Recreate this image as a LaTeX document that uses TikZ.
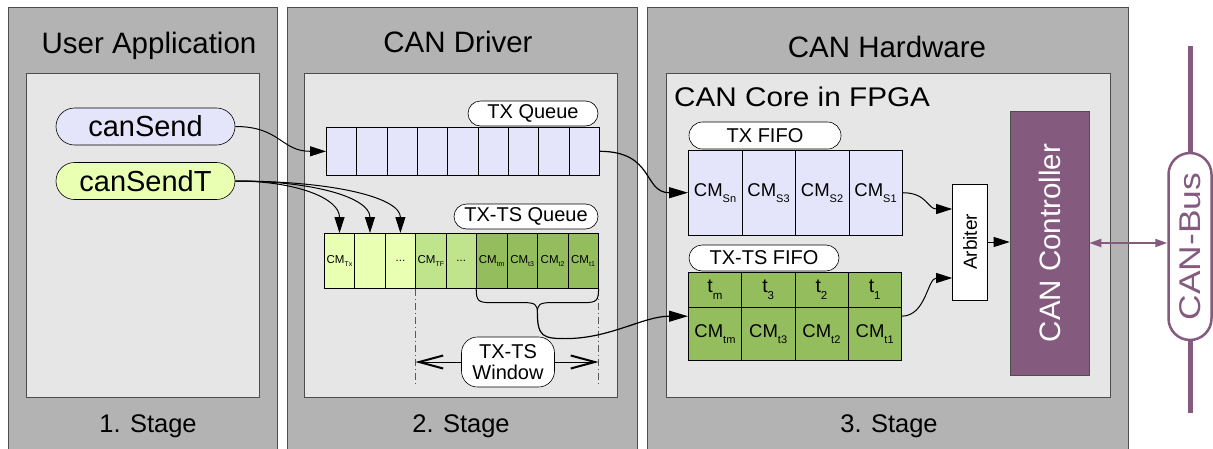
\documentclass[tikz,border=0pt]{standalone}
\usepackage{fontspec}
\usepackage{graphicx}
\setmainfont{Liberation Sans}
\usetikzlibrary{arrows.meta,shapes.misc,calc}
\definecolor{outergray}{RGB}{179,179,179}
\definecolor{innergray}{RGB}{230,230,230}
\definecolor{bordergray}{RGB}{77,77,77}
\definecolor{lav}{RGB}{228,228,250}
\definecolor{lgreen}{RGB}{233,255,178}
\definecolor{mgreen}{RGB}{192,228,140}
\definecolor{dgreen}{RGB}{148,189,94}
\definecolor{canpurple}{RGB}{132,91,127}
\newcommand\subA[1]{\raisebox{-6pt}{\fontsize{11}{11}\selectfont #1}}
\newcommand\subB[1]{\raisebox{-3pt}{\fontsize{7}{7}\selectfont #1}}
\newcommand\subT[1]{\raisebox{-7pt}{\fontsize{11.5}{11.5}\selectfont #1}}
\begin{document}
\begin{tikzpicture}[x=1pt,y=-1pt,
  panel/.style={fill=outergray,draw=bordergray,line width=0.8pt},
  innerbox/.style={fill=innergray,draw=bordergray,line width=0.8pt},
  paneltitle/.style={font=\fontsize{29.5}{34}\selectfont,anchor=base,inner sep=0},
  stagetxt/.style={font=\fontsize{25.5}{30}\selectfont,anchor=base,inner sep=0},
  funcnode/.style={rounded rectangle,draw=black,line width=0.6pt,minimum width=179pt,minimum height=37pt,inner sep=0,font=\fontsize{29}{34}\selectfont},
  tagnode/.style={rounded rectangle,draw=black,fill=white,line width=0.6pt,inner sep=0,font=\fontsize{20}{24}\selectfont},
  qcell/.style={draw=black,line width=0.6pt,anchor=north west,inner sep=0,minimum width=30.33pt,minimum height=48pt},
  rcell/.style={draw=black,line width=0.6pt,anchor=north west,inner sep=0,minimum width=30.44pt,minimum height=55pt,font=\fontsize{11.5}{13}\selectfont},
  fcell/.style={draw=black,line width=0.6pt,anchor=north west,inner sep=0,minimum width=53.5pt,minimum height=85pt,font=\fontsize{18.5}{20}\selectfont},
  gcell/.style={draw=black,line width=0.6pt,anchor=north west,inner sep=0,minimum width=53.25pt,minimum height=35pt,font=\fontsize{19.5}{20}\selectfont,fill=dgreen},
  hcell/.style={draw=black,line width=0.6pt,anchor=north west,inner sep=0,minimum width=53.25pt,minimum height=53pt,font=\fontsize{18.5}{20}\selectfont,fill=dgreen},
  conn/.style={line width=1pt,-{Triangle[length=16pt,width=10pt]}},
  connbig/.style={line width=1.2pt,-{Triangle[length=19pt,width=11pt]}},
  wing/.style={line width=1pt,-{Straight Barb[length=24pt,width=13pt,line width=2pt]}},
  dashdotline/.style={draw=black!65,line width=0.8pt,dash pattern=on 7pt off 3pt on 1pt off 3pt}
]
\useasboundingbox (0,0) rectangle (1213,448);
\fill[white] (0,0) rectangle (1213,448);
% panels
\draw[panel] (8,7) rectangle (277,452);
\draw[panel] (287,7) rectangle (637,452);
\draw[panel] (647,7) rectangle (1128,452);
\draw[innerbox] (26,73) rectangle (259,397);
\draw[innerbox] (304,73) rectangle (617,397);
\draw[innerbox] (666,73) rectangle (1110,397);
% titles
\node[paneltitle] (t1) at (149,53) {User Application};
\node[paneltitle] (t2) at (458,52) {CAN Driver};
\node[paneltitle] (t3) at (887,57) {CAN Hardware};
\node[paneltitle,anchor=base west,font=\fontsize{27}{32}\selectfont] (t4) at (674,106) {\scalebox{1.1}[1]{CAN Core in FPGA}};
\node[stagetxt] (s1) at (148,432) {1. Stage};
\node[stagetxt] (s2) at (461,432) {2. Stage};
\node[stagetxt] (s3) at (889,432) {3. Stage};
% user application
\node[funcnode,fill=lav] (cs) at (145.5,126.5) {canSend};
\node[funcnode,fill=lgreen] (cst) at (145.5,181) {canSendT};
% TX queue
\foreach \i in {1,...,9} \node[qcell,fill=lav] (q\i) at ({326+(\i-1)*30.33},127) {};
\node[tagnode,minimum width=130pt,minimum height=25pt] (lq) at (533,113.5) {TX Queue};
% TX-TS queue
\foreach \i/\c/\t in {1/lgreen/{CM\subB{Tx}},2/lgreen/{},3/lgreen/{...},4/mgreen/{CM\subB{TF}},5/mgreen/{...},6/dgreen/{CM\subB{tm}},7/dgreen/{CM\subB{t3}},8/dgreen/{CM\subB{t2}},9/dgreen/{CM\subB{t1}}}
  \node[rcell,fill=\c] (r\i) at ({324+(\i-1)*30.44},233) {\t};
\node[tagnode,minimum width=144pt,minimum height=25pt] (lts) at (526,216.5) {TX-TS Queue};
% TX FIFO
\node[anchor=north west,minimum width=214pt,minimum height=85pt,inner sep=0] (txf) at (688,150) {};
\foreach \i/\t in {1/Sn,2/S3,3/S2,4/S1}
  \node[fcell,fill=lav] (f\i) at ({688+(\i-1)*53.5},150) {CM\subA{\t}};
\node[tagnode,minimum width=152pt,minimum height=27pt] (lf) at (765,135.5) {TX FIFO};
% TX-TS FIFO
\node[anchor=north west,minimum width=213pt,minimum height=88pt,inner sep=0] (tsf) at (688,272) {};
\foreach \i/\t/\s in {1/m/tm,2/3/t3,3/2/t2,4/1/t1}{
  \node[gcell] (g\i) at ({688+(\i-1)*53.25},272) {t\subT{\t}};
  \node[hcell] (h\i) at ({688+(\i-1)*53.25},307) {CM\subA{\s}};
}
\node[tagnode,minimum width=150pt,minimum height=26pt] (ltf) at (764,258) {TX-TS FIFO};
% arbiter and controller
\node[draw=black,fill=white,line width=0.6pt,rotate=90,minimum width=116pt,minimum height=35pt,inner sep=0,font=\fontsize{19}{20}\selectfont] (arb) at (970,242) {Arbiter};
\node[draw=bordergray,fill=canpurple,line width=0.6pt,rotate=90,minimum width=264pt,minimum height=79pt,inner sep=0,text=white,font=\fontsize{29.5}{34}\selectfont] (ctrl) at (1049.5,243) {CAN Controller};
% CAN bus
\coordinate (bustop) at (1190,46);
\coordinate (busbot) at (1190,413);
\draw[canpurple,line width=5pt] (bustop) -- (busbot);
\node[rounded rectangle,rotate=90,draw=canpurple,line width=2.5pt,fill=white,minimum width=187pt,minimum height=43pt,inner sep=0,text=canpurple,font=\fontsize{30}{34}\selectfont] (bus) at (1190,246.5) {\scalebox{1.18}[1]{CAN-Bus}};
% window
\node[draw=black,fill=white,line width=0.6pt,rounded corners=16pt,minimum width=93pt,minimum height=50pt,align=center,inner sep=0,font=\fontsize{20}{21}\selectfont] (win) at (508,362) {TX-TS\\Window};
\draw[dashdotline] (r4.south west) -- ($(r4.south west)+(0,95)$);
\draw[dashdotline] (r9.south east) -- ($(r9.south east)+(0,95)$);
\draw[wing] (win.west) -- (win.west -| r4.south west);
\draw[wing] (win.east) -- (win.east -| r9.south east);
% brace
\coordinate (bl) at (r6.south west);
\coordinate (br) at (r9.south east);
\coordinate (bt) at ($(bl)!0.5!(br)+(0,24)$);
\draw[line width=1pt] (bl) .. controls +(0,12) and +(-12,0) .. ($(bl)+(14,14)$) -- ($(bt)+(-14,-10)$) .. controls +(12,0) and +(0,-8) .. (bt);
\draw[line width=1pt] (br) .. controls +(0,12) and +(12,0) .. ($(br)+(-14,14)$) -- ($(bt)+(14,-10)$) .. controls +(-12,0) and +(0,-8) .. (bt);
% connectors
\draw[conn] (cs.east) .. controls +(45,0) and +(-45,0) .. (q1.west);
\draw[conn] (cst.east) .. controls +(60,0) and +(0,-35) .. (r1.north);
\draw[conn] (cst.east) .. controls +(80,0) and +(0,-35) .. (r2.north);
\draw[conn] (cst.east) .. controls +(100,0) and +(0,-35) .. (r3.north);
\draw[connbig] (q9.east) .. controls +(55,0) and +(-45,0) .. (txf.west);
\draw[connbig] (bt) .. controls +(0,24) and +(-22,0) .. ($(bt)+(28,26)$) .. controls +(45,0) and +(-45,0) .. (tsf.west);
\draw[conn] (txf.east) .. controls +(25,0) and +(-25,0) .. ([yshift=33pt]arb.north);
\draw[conn] (tsf.east) .. controls +(25,0) and +(-25,0) .. ([yshift=-36pt]arb.north);
\draw[conn] (arb.south) -- (arb.south -| ctrl.north);
\draw[canpurple,line width=2pt,{Triangle[length=12pt,width=8pt]}-{Triangle[length=12pt,width=8pt]}] (ctrl.south) -- (ctrl.south -| bus.north);
\end{tikzpicture}
\end{document}
